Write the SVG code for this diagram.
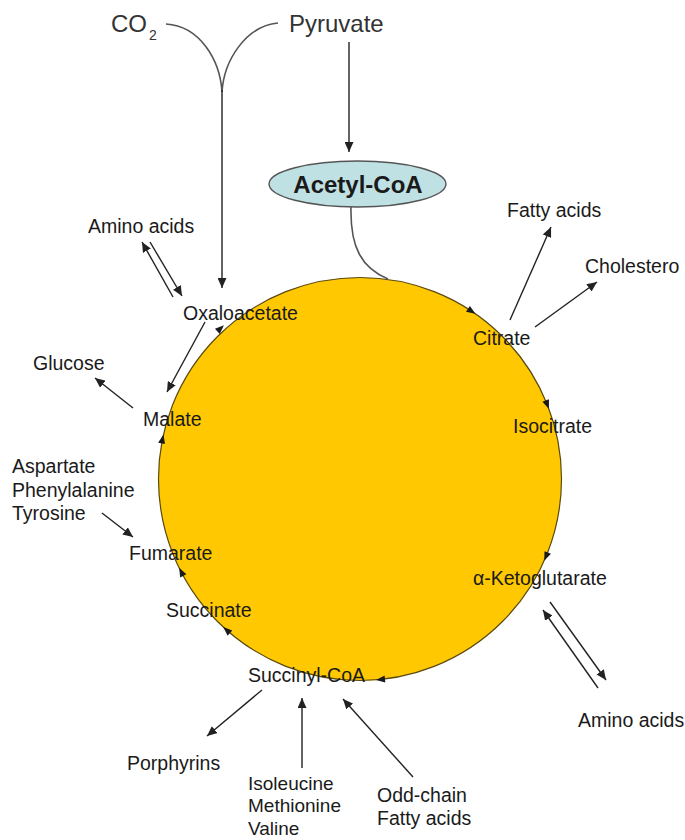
<svg xmlns="http://www.w3.org/2000/svg" xmlns:xlink="http://www.w3.org/1999/xlink" width="685" height="840" viewBox="0 0 685 840">
  <defs>
    <style>
      .lbl { font-family: "Liberation Sans", Arial, sans-serif; font-size: 19.5px; fill: #1a1a1a; }
      .tight { font-size: 19px; }
      .big { font-family: "Liberation Sans", Arial, sans-serif; font-size: 24px; fill: #333; }
      .sub { font-family: "Liberation Sans", Arial, sans-serif; font-size: 14px; fill: #333; }
      .hub { font-family: "Liberation Sans", Arial, sans-serif; font-size: 24px; font-weight: bold; fill: #1a1a1a; }
      .edge { fill: none; stroke: #222; stroke-width: 1.4; }
      .feed { fill: none; stroke: #555; stroke-width: 1.6; }
      .arrow { marker-end: url(#head); }
    </style>
    <marker id="head" markerUnits="userSpaceOnUse" markerWidth="11" markerHeight="9" refX="10" refY="4.5" orient="auto">
      <path d="M0,0 L10,4.5 L0,9 z" fill="#222"/>
    </marker>
    <!-- small arrowhead used to mark the clockwise direction of the cycle -->
    <path id="tip" d="M4,0 L-5,-3.5 L-5,3.5 z" fill="#1a1a1a"/>
  </defs>

  <rect width="685" height="840" fill="#fff"/>

  <!-- the cycle -->
  <g id="cycle">
    <circle cx="360" cy="479" r="201.5" fill="#FFC800" stroke="#5a4a10" stroke-width="1.2"/>
    <use xlink:href="#tip" transform="translate(472.1,311.6) rotate(33.8)"/>
    <use xlink:href="#tip" transform="translate(547.5,405.2) rotate(68.5)"/>
    <use xlink:href="#tip" transform="translate(545.8,557.1) rotate(112.8)"/>
    <use xlink:href="#tip" transform="translate(380,679.5) rotate(174.3)"/>
    <use xlink:href="#tip" transform="translate(226.2,629.7) rotate(221.6)"/>
    <use xlink:href="#tip" transform="translate(181,571.4) rotate(242.7)"/>
    <use xlink:href="#tip" transform="translate(162.6,438.5) rotate(281.6)"/>
    <use xlink:href="#tip" transform="translate(221,328) rotate(317.3)"/>
  </g>

  <!-- connectors -->
  <g id="connectors">
    <path class="feed" d="M166,24 C200,26 220,60 222,92"/>
    <path class="feed" d="M278,23 C246,26 224,60 222,92"/>
    <path class="edge arrow" d="M222,90 L222,288"/>
    <path class="edge arrow" d="M349,42 L349,152"/>
    <path class="feed" d="M351,207 C350,248 362,268 388,279"/>

    <path class="edge arrow" d="M173,297 L142,242"/>
    <path class="edge arrow" d="M150,242 L182,296"/>
    <path class="edge arrow" d="M205,322 L167,392"/>
    <path class="edge arrow" d="M133,408 L95,378"/>
    <path class="edge arrow" d="M102,513 L133,537"/>

    <path class="edge arrow" d="M510,320 L551,227"/>
    <path class="edge arrow" d="M535,327 L597,282"/>

    <path class="edge arrow" d="M598,688 L543,610"/>
    <path class="edge arrow" d="M550,602 L606,680"/>

    <path class="edge arrow" d="M262,690 L207,736"/>
    <path class="edge arrow" d="M302,768 L302,698"/>
    <path class="edge arrow" d="M413,777 L343,699"/>
  </g>

  <!-- inputs at the top -->
  <g id="co2">
    <text class="big" x="111" y="32">CO</text>
    <text class="sub" x="149" y="40">2</text>
  </g>
  <g id="pyruvate">
    <text class="big" x="289" y="32">Pyruvate</text>
  </g>
  <g id="acetyl-coa">
    <ellipse cx="357.5" cy="184" rx="88.5" ry="23" fill="#bfe1e4" stroke="#555" stroke-width="1.4"/>
    <text class="hub" x="358" y="193" text-anchor="middle">Acetyl-CoA</text>
  </g>

  <!-- cycle intermediates -->
  <g id="citrate"><text class="lbl" x="473" y="345">Citrate</text></g>
  <g id="isocitrate"><text class="lbl" x="513" y="433">Isocitrate</text></g>
  <g id="alpha-ketoglutarate"><text class="lbl" x="473" y="585">α-Ketoglutarate</text></g>
  <g id="succinyl-coa"><text class="lbl" x="248" y="682">Succinyl-CoA</text></g>
  <g id="succinate"><text class="lbl" x="166" y="617">Succinate</text></g>
  <g id="fumarate"><text class="lbl" x="129" y="560">Fumarate</text></g>
  <g id="malate"><text class="lbl" x="143" y="426">Malate</text></g>
  <g id="oxaloacetate"><text class="lbl" x="183" y="320">Oxaloacetate</text></g>

  <!-- related pathways -->
  <g id="amino-acids-oaa"><text class="lbl" x="88" y="233">Amino acids</text></g>
  <g id="glucose"><text class="lbl" x="33" y="370">Glucose</text></g>
  <g id="aromatic-amino-acids">
    <text class="lbl" x="12" y="473">Aspartate</text>
    <text class="lbl" x="12" y="497">Phenylalanine</text>
    <text class="lbl" x="12" y="520">Tyrosine</text>
  </g>
  <g id="fatty-acids"><text class="lbl" x="507" y="217">Fatty acids</text></g>
  <g id="cholesterol"><text class="lbl" x="585" y="273">Cholestero</text></g>
  <g id="amino-acids-akg"><text class="lbl" x="578" y="727">Amino acids</text></g>
  <g id="porphyrins"><text class="lbl" x="127" y="770">Porphyrins</text></g>
  <g id="branched-amino-acids">
    <text class="lbl tight" x="248" y="790">Isoleucine</text>
    <text class="lbl tight" x="248" y="812">Methionine</text>
    <text class="lbl tight" x="248" y="835">Valine</text>
  </g>
  <g id="odd-chain-fatty-acids">
    <text class="lbl" x="377" y="802">Odd-chain</text>
    <text class="lbl" x="377" y="825">Fatty acids</text>
  </g>
</svg>
